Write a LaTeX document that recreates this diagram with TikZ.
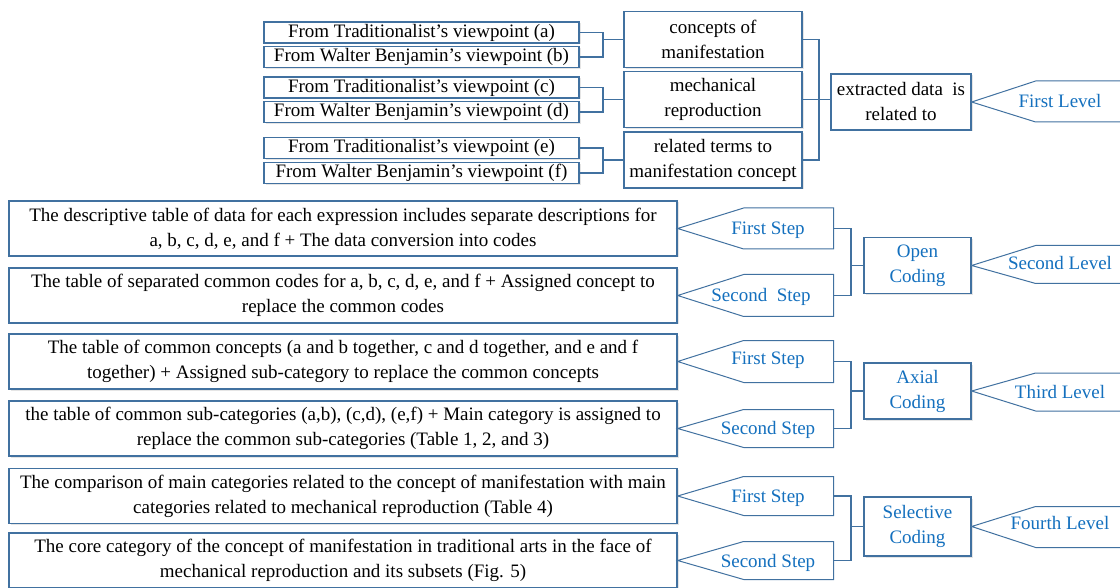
\documentclass[tikz,border=0pt]{standalone}
\usepackage{fontspec}
\setmainfont{Liberation Serif}
\usepackage{tikz}
\usetikzlibrary{shadows}
\usepackage{xcolor}
\definecolor{cdblue}{RGB}{65,113,160}
\definecolor{cdtext}{RGB}{20,112,190}
\tikzstyle{databox} = [draw=cdblue, line width=1.3pt, fill=white, inner sep=0pt, align=center, font=\fontsize{19}{25}\selectfont, drop shadow={shadow xshift=1.5pt, shadow yshift=-1.5pt, fill=black!40, opacity=0.25}]
\tikzstyle{srcbox} = [databox, minimum width=315pt, minimum height=21pt]
\tikzstyle{conbox} = [databox, minimum width=178pt, minimum height=56pt]
\tikzstyle{bigbox} = [databox, minimum width=668pt, minimum height=55pt]
\tikzstyle{codebox} = [databox, minimum width=107pt, minimum height=56pt, text=cdtext]
\tikzstyle{steptext} = [inner sep=0pt, text=cdtext, font=\fontsize{19}{25}\selectfont]
\tikzstyle{stepline} = [draw=cdblue, line width=1pt, fill=white]
\tikzstyle{link} = [draw=cdblue, line width=1.3pt]

\begin{document}
\begin{tikzpicture}[x=1pt, y=-1pt]
\useasboundingbox (0,0) rectangle (1120,588);
% First level: sources
\node[srcbox] (va) at (421.5,32.5) {From Traditionalist’s viewpoint (a)};
\node[srcbox] (vb) at (421.5,57) {From Walter Benjamin’s viewpoint (b)};
\node[srcbox] (vc) at (421.5,87.5) {From Traditionalist’s viewpoint (c)};
\node[srcbox] (vd) at (421.5,112) {From Walter Benjamin’s viewpoint (d)};
\node[srcbox] (ve) at (421.5,148) {From Traditionalist’s viewpoint (e)};
\node[srcbox] (vf) at (421.5,173) {From Walter Benjamin’s viewpoint (f)};
\node[conbox] (con1) at (713,39.5) {concepts of\\manifestation};
\node[conbox] (con2) at (713,99.5) {mechanical\\reproduction};
\node[conbox] (con3) at (713,160) {related terms to\\manifestation concept};
\node[databox, minimum width=140pt, minimum height=56pt] (ext) at (901,102) {extracted data\ \ is\\related to};
\coordinate (j1) at (603,39.5);
\coordinate (j2) at (603,99.5);
\coordinate (j3) at (603,160);
\coordinate (j4) at (819,99.5);
\draw[link] (va.east) -| (j1) |- (vb.east);
\draw[link] (vc.east) -| (j2) |- (vd.east);
\draw[link] (ve.east) -| (j3) |- (vf.east);
\draw[link] (j1) -- (con1.west);
\draw[link] (j2) -- (con2.west);
\draw[link] (j3) -- (con3.west);
\draw[link] (con1.east) -| (j4) |- (con3.east);
\draw[link] (con2.east) -- (con2.east -| ext.west);
\draw[stepline] (ext.east) -- ++(64,-21) -- ++(100,0) (ext.east) -- ++(64,20) -- ++(100,0);
\node[steptext] (lv1) at (1060,101) {First Level};

% Second level: open coding
\node[bigbox] (b1) at (343,228.5) {The descriptive table of data for each expression includes separate descriptions for\\a, b, c, d, e, and f + The data conversion into codes};
\node[bigbox] (b2) at (343,295.5) {The table of separated common codes for a, b, c, d, e, and f + Assigned concept to\\replace the common codes};
\draw[stepline] (b1.east) -- ++(66,-20.5) -- ++(90,0) -- ++(0,20.5) coordinate (s1r) -- ++(0,20.5) -- ++(-90,0) -- cycle;
\draw[stepline] (b2.east) -- ++(66,-21) -- ++(90,0) -- ++(0,21) coordinate (s2r) -- ++(0,21) -- ++(-90,0) -- cycle;
\node[steptext] (st1) at (768,230) {First Step};
\node[steptext] (st2) at (761,297) {Second\ \ Step};
\node[codebox] (open) at (917.5,265.5) {Open\\Coding};
\coordinate (k1) at (851,265.5);
\draw[link] (s1r) -| (k1) |- (s2r);
\draw[link] (k1) -- (open.west);
\draw[stepline] (open.east) -- ++(64,-20) -- ++(100,0) (open.east) -- ++(64,18) -- ++(100,0);
\node[steptext] (lv2) at (1060,263) {Second Level};

% Third level: axial coding
\node[bigbox] (b3) at (343,361.5) {The table of common concepts (a and b together, c and d together, and e and f\\together) + Assigned sub-category to replace the common concepts};
\node[bigbox] (b4) at (343,428.5) {the table of common sub-categories (a,b), (c,d), (e,f) + Main category is assigned to\\replace the common sub-categories (Table 1, 2, and 3)};
\draw[stepline] (b3.east) -- ++(66,-21) -- ++(90,0) -- ++(0,21) coordinate (s3r) -- ++(0,21) -- ++(-90,0) -- cycle;
\draw[stepline] (b4.east) -- ++(66,-19) -- ++(90,0) -- ++(0,19) coordinate (s4r) -- ++(0,19) -- ++(-90,0) -- cycle;
\node[steptext] (st3) at (768,360) {First Step};
\node[steptext] (st4) at (768,430) {Second Step};
\node[codebox] (axial) at (917.5,391) {Axial\\Coding};
\coordinate (k2) at (851,391);
\draw[link] (s3r) -| (k2) |- (s4r);
\draw[link] (k2) -- (axial.west);
\draw[stepline] (axial.east) -- ++(64,-18) -- ++(100,0) (axial.east) -- ++(64,20) -- ++(100,0);
\node[steptext] (lv3) at (1060,392) {Third Level};

% Fourth level: selective coding
\node[bigbox] (b5) at (343,496) {The comparison of main categories related to the concept of manifestation with main\\categories related to mechanical reproduction (Table 4)};
\node[bigbox] (b6) at (343,560.5) {The core category of the concept of manifestation in traditional arts in the face of\\mechanical reproduction and its subsets (Fig. 5)};
\draw[stepline] (b5.east) -- ++(66,-19.5) -- ++(90,0) -- ++(0,19.5) coordinate (s5r) -- ++(0,19.5) -- ++(-90,0) -- cycle;
\draw[stepline] (b6.east) -- ++(66,-19) -- ++(90,0) -- ++(0,19) coordinate (s6r) -- ++(0,19) -- ++(-90,0) -- cycle;
\node[steptext] (st5) at (768,498) {First Step};
\node[steptext] (st6) at (768,563) {Second Step};
\node[codebox, minimum height=59pt] (sel) at (917.5,526.5) {Selective\\Coding};
\coordinate (k3) at (851,526.5);
\draw[link] (s5r) -| (k3) |- (s6r);
\draw[link] (k3) -- (sel.west);
\draw[stepline] (sel.east) -- ++(64,-20) -- ++(100,0) (sel.east) -- ++(64,21) -- ++(100,0);
\node[steptext] (lv4) at (1060,523) {Fourth Level};
\end{tikzpicture}
\end{document}
